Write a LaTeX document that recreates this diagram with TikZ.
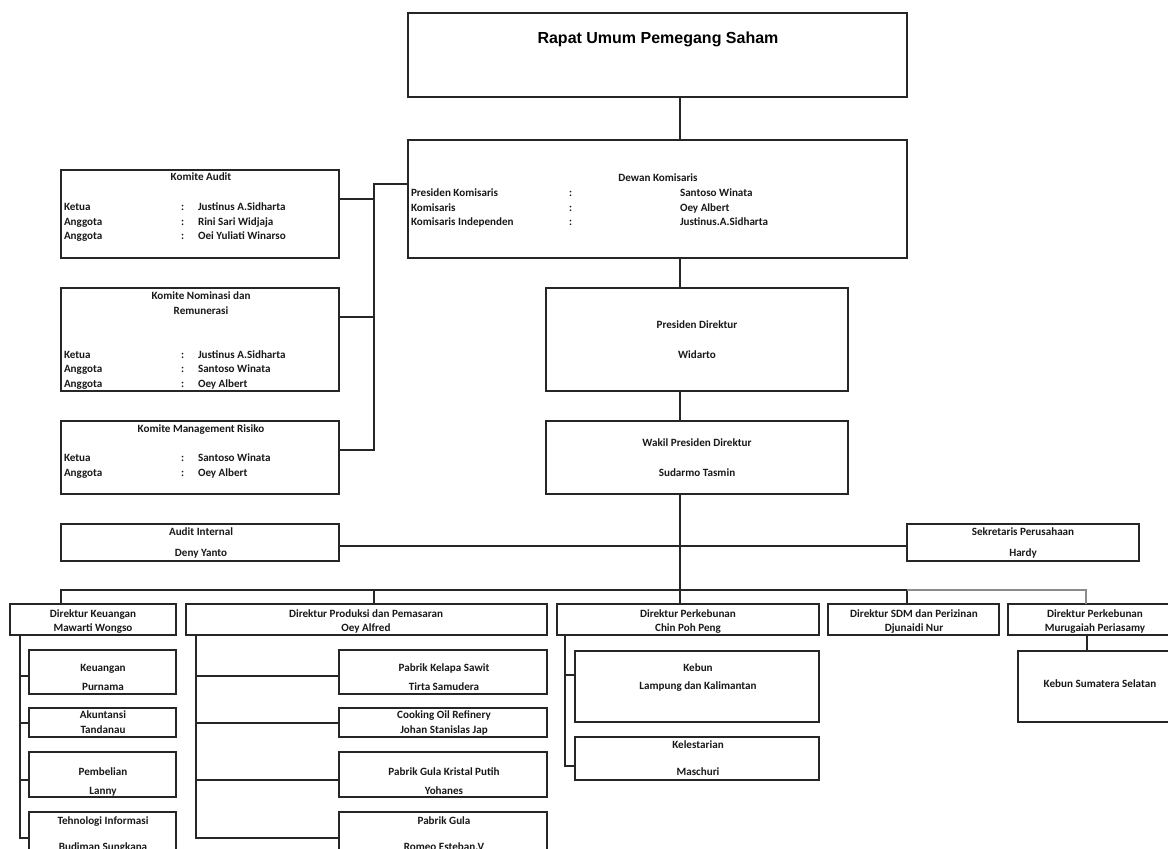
\documentclass[tikz,border=0pt]{standalone}
\usepackage{fontspec}
\setmainfont{Carlito}
\newfontfamily\arialfont{Liberation Sans}
\usetikzlibrary{calc}
\tikzset{
  box/.style={draw=black!85, line width=1.1pt, inner sep=0pt, outer sep=0pt, rectangle, fill=none},
  conn/.style={draw=black!85, line width=1.1pt},
  connlight/.style={draw=black!45, line width=1.1pt},
  txt/.style={inner sep=0pt, outer sep=0pt, yshift=-1.5pt, font=\fontsize{11.1}{13}\selectfont\bfseries, text=black!90},
  titletxt/.style={inner sep=0pt, outer sep=0pt, yshift=-3pt, font=\fontsize{16}{19}\selectfont\arialfont\bfseries, text=black}
}
\newcommand\obox[5]{\node[box, anchor=north west, minimum width={#4-#2}, minimum height={#5-#3}] (#1) at (#2,#3) {};}
\newcommand\tc[4]{\node[txt, anchor=mid] (#1) at (#2,#3) {#4};}
\newcommand\tl[4]{\node[txt, anchor=mid west] (#1) at (#2,#3) {#4};}
\newcommand\trow[7]{\tl{#1a}{#3}{#2}{#6}\tl{#1b}{#4}{#2}{:}\tl{#1c}{#5}{#2}{#7}}
% attach point on left/right side of a box: name, box, anchor, drop
\newcommand\att[4]{\coordinate (#1) at ([yshift=-#4pt]#2.#3);}
\begin{document}
\begin{tikzpicture}[x=1pt,y=-1pt]
\useasboundingbox[fill=white] (0,0) rectangle (1168,849);
% boxes
\obox{rups}{408}{13}{907}{97}
\obox{dk}{408}{140}{907}{258}
\obox{ka}{61}{170}{339}{258}
\obox{kn}{61}{288}{339}{391}
\obox{kmr}{61}{421}{339}{494}
\obox{pd}{546}{288}{848}{391}
\obox{wpd}{546}{421}{848}{494}
\obox{ai}{61}{524}{339}{561}
\obox{sek}{907}{524}{1139}{561}
\obox{dkeu}{10}{604}{176}{635}
\obox{dpro}{186}{604}{547}{635}
\obox{dper}{557}{604}{819}{635}
\obox{dsdm}{828}{604}{999}{635}
\obox{dmur}{1008}{604}{1182}{635}
\obox{keu}{29}{650}{176}{694}
\obox{aku}{29}{708}{176}{737}
\obox{pem}{29}{752}{176}{797}
\obox{ti}{29}{812}{176}{870}
\obox{pks}{339}{650}{547}{694}
\obox{cor}{339}{708}{547}{737}
\obox{pgk}{339}{752}{547}{797}
\obox{pg}{339}{812}{547}{870}
\obox{keb}{575}{651}{819}{722}
\obox{kel}{575}{737}{819}{780}
\obox{kss}{1018}{651}{1182}{722}
% helper coordinates
\coordinate (spine) at (680,0);
\coordinate (cbus) at (374,0);
\coordinate (b1) at (61,590);
\coordinate (b2) at (374,590);
\coordinate (b4) at (907,590);
\coordinate (b5) at (1086,590);
\coordinate (kx) at (20,0);
\coordinate (px) at (196,0);
\coordinate (ex) at (565,0);
\coordinate (mx) at (1087,0);
\att{dkL}{dk}{north west}{44}
\att{kaR}{ka}{north east}{29}
\att{knR}{kn}{north east}{29}
\att{kmrR}{kmr}{north east}{29}
\att{aiR}{ai}{north east}{22}
\att{sekL}{sek}{north west}{22}
\att{keuL}{keu}{north west}{26}
\att{akuL}{aku}{north west}{15}
\att{pemL}{pem}{north west}{28}
\att{tiL}{ti}{north west}{26}
\att{pksL}{pks}{north west}{26}
\att{corL}{cor}{north west}{15}
\att{pgkL}{pgk}{north west}{28}
\att{pgL}{pg}{north west}{26}
\att{kebL}{keb}{north west}{24}
\att{kelL}{kel}{north west}{29}
% connectors
\draw[conn] (rups.south -| spine) -- (dk.north -| spine);
\draw[conn] (dk.south -| spine) -- (pd.north -| spine);
\draw[conn] (pd.south -| spine) -- (wpd.north -| spine);
\draw[conn] (wpd.south -| spine) -- (dper.north -| spine);
\draw[conn] (dkL) -| (cbus |- kmrR) -- (kmrR);
\draw[conn] (kaR) -- (cbus |- kaR);
\draw[conn] (knR) -- (cbus |- knR);
\draw[conn] (aiR) -- (sekL);
\draw[conn] (dkeu.north -| b1) -- (b1) -- (b4) -- (dsdm.north -| b4);
\draw[conn] (dpro.north -| b2) -- (b2);
\draw[connlight] (b4) -- (b5) -- (dmur.north -| b5);
% finance branch
\draw[conn] (dkeu.south -| kx) |- (tiL);
\draw[conn] (kx |- keuL) -- (keuL);
\draw[conn] (kx |- akuL) -- (akuL);
\draw[conn] (kx |- pemL) -- (pemL);
% production branch
\draw[conn] (dpro.south -| px) |- (pgL);
\draw[conn] (px |- pksL) -- (pksL);
\draw[conn] (px |- corL) -- (corL);
\draw[conn] (px |- pgkL) -- (pgkL);
% plantation branch
\draw[conn] (dper.south -| ex) |- (kelL);
\draw[conn] (ex |- kebL) -- (kebL);
% Murugaiah branch
\draw[conn] (dmur.south -| mx) -- (kss.north -| mx);
% texts
\node[titletxt, anchor=mid] (trups) at (658,38) {Rapat Umum Pemegang Saham};
\tc{tdk}{658}{178}{Dewan Komisaris}
\trow{dkr1}{193}{411}{569}{680}{Presiden Komisaris}{Santoso Winata}
\trow{dkr2}{208}{411}{569}{680}{Komisaris}{Oey Albert}
\trow{dkr3}{222}{411}{569}{680}{Komisaris Independen}{Justinus.A.Sidharta}
\tc{tka}{201}{177}{Komite Audit}
\trow{kar1}{207}{64}{181}{198}{Ketua}{Justinus A.Sidharta}
\trow{kar2}{222}{64}{181}{198}{Anggota}{Rini Sari Widjaja}
\trow{kar3}{236}{64}{181}{198}{Anggota}{Oei Yuliati Winarso}
\tc{tkn1}{201}{296}{Komite Nominasi dan}
\tc{tkn2}{201}{311}{Remunerasi}
\trow{knr1}{355}{64}{181}{198}{Ketua}{Justinus A.Sidharta}
\trow{knr2}{369}{64}{181}{198}{Anggota}{Santoso Winata}
\trow{knr3}{384}{64}{181}{198}{Anggota}{Oey Albert}
\tc{tkmr}{201}{429}{Komite Management Risiko}
\trow{kmr1}{458}{64}{181}{198}{Ketua}{Santoso Winata}
\trow{kmr2}{473}{64}{181}{198}{Anggota}{Oey Albert}
\tc{tpd1}{697}{325}{Presiden Direktur}
\tc{tpd2}{697}{355}{Widarto}
\tc{twpd1}{697}{443}{Wakil Presiden Direktur}
\tc{twpd2}{697}{473}{Sudarmo Tasmin}
\tc{tai1}{201}{532}{Audit Internal}
\tc{tai2}{201}{553}{Deny Yanto}
\tc{tsek1}{1023}{532}{Sekretaris Perusahaan}
\tc{tsek2}{1023}{553}{Hardy}
\tc{tdkeu1}{93}{614}{Direktur Keuangan}
\tc{tdkeu2}{93}{628}{Mawarti Wongso}
\tc{tdpro1}{366}{614}{Direktur Produksi dan Pemasaran}
\tc{tdpro2}{366}{628}{Oey Alfred}
\tc{tdper1}{688}{614}{Direktur Perkebunan}
\tc{tdper2}{688}{628}{Chin Poh Peng}
\tc{tdsdm1}{914}{614}{Direktur SDM dan Perizinan}
\tc{tdsdm2}{914}{628}{Djunaidi Nur}
\tc{tdmur1}{1095}{614}{Direktur Perkebunan}
\tc{tdmur2}{1095}{628}{Murugaiah Periasamy}
\tc{tkeu1}{103}{668}{Keuangan}
\tc{tkeu2}{103}{687}{Purnama}
\tc{taku1}{103}{715}{Akuntansi}
\tc{taku2}{103}{730}{Tandanau}
\tc{tpem1}{103}{772}{Pembelian}
\tc{tpem2}{103}{791}{Lanny}
\tc{tti1}{103}{821}{Tehnologi Informasi}
\tc{tti2}{103}{847}{Budiman Sungkana}
\tc{tpks1}{444}{668}{Pabrik Kelapa Sawit}
\tc{tpks2}{444}{687}{Tirta Samudera}
\tc{tcor1}{444}{715}{Cooking Oil Refinery}
\tc{tcor2}{444}{730}{Johan Stanislas Jap}
\tc{tpgk1}{444}{772}{Pabrik Gula Kristal Putih}
\tc{tpgk2}{444}{791}{Yohanes}
\tc{tpg1}{444}{821}{Pabrik Gula}
\tc{tpg2}{444}{847}{Romeo Esteban.V}
\tc{tkeb1}{698}{668}{Kebun}
\tc{tkeb2}{698}{686}{Lampung dan Kalimantan}
\tc{tkel1}{698}{745}{Kelestarian}
\tc{tkel2}{698}{772}{Maschuri}
\tc{tkss}{1100}{684}{Kebun Sumatera Selatan}
\end{tikzpicture}
\end{document}
